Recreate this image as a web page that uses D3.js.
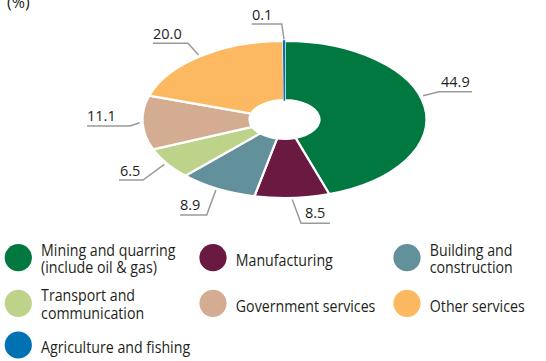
<!DOCTYPE html>
<html>
<head>
<meta charset="utf-8">
<script src="https://cdn.jsdelivr.net/npm/d3@7"></script>
<style>
  html, body { margin: 0; padding: 0; background: #fff; }
  svg { display: block; }
  text { font-family: "Open Sans", "Noto Sans", sans-serif; fill: #231f20; }
</style>
</head>
<body>
<svg id="chart" width="546" height="361"></svg>
<script>
// Sector shares of GDP (%), in drawing order (clockwise from 12 o'clock)
const sectors = [
  "Mining and quarring (include oil & gas)",
  "Manufacturing",
  "Building and construction",
  "Transport and communication",
  "Government services",
  "Other services",
  "Agriculture and fishing"
];
const legendLines = [
  ["Mining and quarring", "(include oil & gas)"],
  ["Manufacturing"],
  ["Building and", "construction"],
  ["Transport and", "communication"],
  ["Government services"],
  ["Other services"],
  ["Agriculture and fishing"]
];
const shares = [44.9, 8.5, 8.9, 6.5, 11.1, 20.0, 0.1];
const colors = ["#00783f", "#6a1940", "#62909b", "#bdd38a", "#d3ac91", "#fcb962", "#0072b4"];
const unitLabel = "(%)";

// ---- layout ----
const cx = 284.5, cy = 119.5;      // ring centre
const R = 142, r0 = 35;            // outer / inner radius (horizontal)
const squash = 0.553;              // vertical flattening of the ring

// leader-line layout for each value label
const labelLayout = [
  { frac: 0.45, elbow: [439, 91.7],  end: [472, 91.7],  tx: 441, ty: 87 },
  { frac: 0.5,  elbow: [301, 223.3], end: [330, 223.3], tx: 305, ty: 218 },
  { frac: 0.5,  elbow: [206.7, 215], end: [180, 215],   tx: 180, ty: 210 },
  { frac: 0.5,  elbow: [143, 180],   end: [119, 180],   tx: 120, ty: 175.5 },
  { frac: 0.5,  elbow: [130, 126],   end: [87, 126],    tx: 87,  ty: 121 },
  { frac: 0.5,  elbow: [188, 43.3],  end: [153, 43.3],  tx: 153, ty: 38.5 },
  { frac: 0.5,  elbow: [281.7, 24],  end: [251.7, 24],  tx: 252, ty: 19.5 }
];

const svg = d3.select("#chart");

// unit label
svg.append("text")
  .attr("x", 7).attr("y", 8)
  .attr("font-size", 16)
  .text(unitLabel);

// ---- ring ----
const pieData = d3.pie().sort(null).value(d => d)(shares);
const arc = d3.arc().innerRadius(r0).outerRadius(R);

const ring = svg.append("g")
  .attr("transform", `translate(${cx},${cy}) scale(1,${squash})`);

ring.selectAll("path.slice")
  .data(pieData)
  .join("path")
  .attr("class", "slice")
  .attr("d", arc)
  .attr("fill", (d, i) => colors[i])
  .attr("stroke", "#fff")
  .attr("stroke-width", 2.2)
  .attr("stroke-linejoin", "round")
  .attr("vector-effect", "non-scaling-stroke");

// very thin slices get an outline in their own colour so they stay visible
ring.selectAll("path.thin")
  .data(pieData.filter(d => (d.endAngle - d.startAngle) * R < 3))
  .join("path")
  .attr("class", "thin")
  .attr("d", arc)
  .attr("fill", d => colors[d.index])
  .attr("stroke", d => colors[d.index])
  .attr("stroke-width", 1.4)
  .attr("vector-effect", "non-scaling-stroke");

// ---- value labels with leader lines ----
const ellipsePoint = (a, rad) => [cx + rad * Math.sin(a), cy - rad * Math.cos(a) * squash];
const fmt = d3.format(".1f");

const labels = svg.append("g");
pieData.forEach((d, i) => {
  const L = labelLayout[i];
  const a = d.startAngle + (d.endAngle - d.startAngle) * L.frac;
  const start = ellipsePoint(a, R + 3);
  labels.append("polyline")
    .attr("points", [start, L.elbow, L.end].map(p => p.join(",")).join(" "))
    .attr("fill", "none")
    .attr("stroke", "#9a9a9a")
    .attr("stroke-width", 1.5);
  labels.append("text")
    .attr("x", L.tx).attr("y", L.ty)
    .attr("font-size", 14.5)
    .text(fmt(shares[i]));
});

// ---- legend ----
const colX = [18.3, 213, 407];
const rowY = [257.7, 303.3, 345];
const legend = svg.append("g");
sectors.forEach((name, i) => {
  const x = colX[i % 3], y = rowY[Math.floor(i / 3)];
  legend.append("circle")
    .attr("cx", x).attr("cy", y).attr("r", 13.6)
    .attr("fill", colors[i]);
  const lines = legendLines[i];
  const t = legend.append("text")
    .attr("transform", `translate(${x + 22.8},${lines.length > 1 ? y - 1.9 : y + 8.2}) scale(0.86,1)`)
    .attr("font-size", 16.5);
  lines.forEach((ln, j) => {
    t.append("tspan").attr("x", 0).attr("dy", j === 0 ? 0 : 17.3).text(ln);
  });
});
</script>
</body>
</html>
